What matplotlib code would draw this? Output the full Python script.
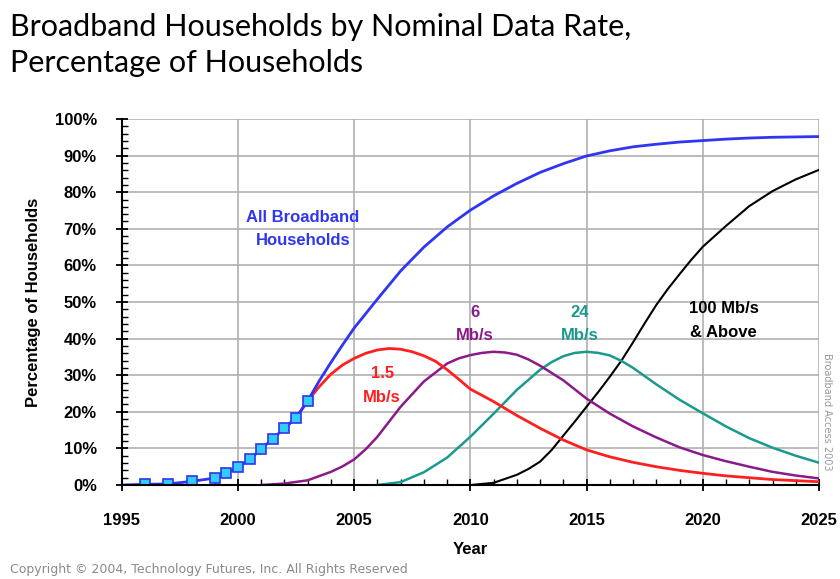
import matplotlib
matplotlib.use("Agg")
from matplotlib import pyplot as plt
from matplotlib.ticker import MultipleLocator, FuncFormatter

# data (percent of households)
marker_years = [1996, 1997, 1998, 1999, 1999.5, 2000, 2000.5, 2001, 2001.5, 2002, 2002.5, 2003]
marker_vals = [0.2, 0.3, 1.0, 1.9, 3.2, 4.8, 7.0, 9.8, 12.7, 15.5, 18.4, 23.0]

all_years = ([1995] + marker_years +
             [2003.5, 2004, 2004.5, 2005, 2006, 2007, 2008, 2009, 2010, 2011, 2012, 2013,
              2014, 2015, 2016, 2017, 2018, 2019, 2020, 2021, 2022, 2023, 2024, 2025])
all_vals = ([0] + marker_vals +
            [28.5, 33.5, 38.3, 42.9, 50.8, 58.5, 65.0, 70.5, 75.1, 79.0, 82.4, 85.4,
             87.8, 89.9, 91.3, 92.4, 93.1, 93.7, 94.1, 94.5, 94.8, 95.0, 95.1, 95.2])

r15_years = [2002, 2002.5, 2003, 2003.5, 2004, 2004.5, 2005, 2005.5, 2006, 2006.5, 2007,
             2007.5, 2008, 2008.5, 2009, 2009.5, 2010, 2011, 2012, 2013, 2014, 2015, 2016,
             2017, 2018, 2019, 2020, 2021, 2022, 2023, 2024, 2025]
r15_vals = [15.5, 18.4, 23.0, 26.9, 30.3, 32.8, 34.6, 36.0, 36.9, 37.3, 37.1, 36.4, 35.3,
            33.8, 31.5, 28.9, 26.2, 22.8, 19.0, 15.5, 12.3, 9.6, 7.7, 6.2, 5.0, 4.0, 3.2,
            2.5, 2.0, 1.5, 1.2, 0.9]

r6_years = [2001, 2002, 2003, 2004, 2004.5, 2005, 2005.5, 2006, 2007, 2008, 2009, 2009.5,
            2010, 2010.5, 2011, 2011.5, 2012, 2012.5, 2013, 2014, 2015, 2016, 2017, 2018,
            2019, 2020, 2021, 2022, 2023, 2024, 2025]
r6_vals = [0, 0.4, 1.3, 3.6, 5.1, 7.0, 9.8, 13.2, 21.4, 28.3, 33.2, 34.6, 35.5, 36.1, 36.4,
           36.2, 35.6, 34.3, 32.6, 28.6, 23.6, 19.5, 16.0, 13.0, 10.3, 8.2, 6.5, 5.0, 3.6,
           2.6, 1.8]

r24_years = [2006, 2007, 2008, 2009, 2010, 2011, 2012, 2013, 2013.5, 2014, 2014.5, 2015,
             2015.5, 2016, 2016.5, 2017, 2018, 2019, 2020, 2021, 2022, 2023, 2024, 2025]
r24_vals = [0, 0.8, 3.5, 7.5, 13.2, 19.5, 26.0, 31.5, 33.6, 35.2, 36.1, 36.4, 36.1, 35.4,
            33.9, 32.0, 27.5, 23.3, 19.6, 16.0, 12.8, 10.2, 8.0, 6.1]

r100_years = [2010, 2011, 2012, 2012.5, 2013, 2013.5, 2014, 2014.5, 2015, 2015.5, 2016,
              2016.5, 2017, 2017.5, 2018, 2018.5, 2019, 2019.5, 2020, 2021, 2022, 2023,
              2024, 2025]
r100_vals = [0, 0.6, 2.8, 4.4, 6.4, 9.6, 13.5, 17.4, 21.4, 25.4, 29.6, 34.0, 39.0, 44.2,
             49.2, 53.6, 57.6, 61.5, 65.1, 70.8, 76.2, 80.3, 83.5, 86.1]

BLUE = "#2f35f0"
RED = "#ff1f1f"
PURPLE = "#8a1a8a"
TEAL = "#1a9a8c"

fig = plt.figure(figsize=(8.4, 5.79), dpi=100)
ax = fig.add_axes([0.145, 0.1623, 0.83, 0.6322])

ax.plot(r100_years, r100_vals, color="black", lw=1.5)
ax.plot(r24_years, r24_vals, color=TEAL, lw=1.8)
ax.plot(r6_years, r6_vals, color=PURPLE, lw=1.8)
ax.plot(r15_years, r15_vals, color=RED, lw=2.0)
ax.plot(all_years, all_vals, color=BLUE, lw=2.0)
ax.plot(marker_years, marker_vals, ls="none", marker="s", ms=7,
        mfc="#33ccff", mec=BLUE, mew=1.2)

ax.set_xlim(1995, 2025)
ax.set_ylim(0, 100)
ax.xaxis.set_major_locator(MultipleLocator(5))
ax.xaxis.set_minor_locator(MultipleLocator(1))
ax.yaxis.set_major_locator(MultipleLocator(10))
ax.yaxis.set_minor_locator(MultipleLocator(2))
ax.yaxis.set_major_formatter(FuncFormatter(lambda v, p: f"{int(v)}%"))
ax.grid(True, which="major", color="#b0b0b0", lw=1.2)
ax.set_axisbelow(True)

for s in ["top", "right"]:
    ax.spines[s].set_visible(False)
for s in ["left", "bottom"]:
    ax.spines[s].set_linewidth(1.5)

ax.tick_params(which="major", direction="inout", length=8, width=1.3, labelsize=12)
ax.tick_params(which="minor", direction="in", length=4, width=1)
for lab in ax.get_xticklabels() + ax.get_yticklabels():
    lab.set_fontfamily("Liberation Sans")
    lab.set_fontweight("bold")
ax.tick_params(axis="x", pad=16)
ax.tick_params(axis="y", pad=14)

ax.set_xlabel("Year", fontsize=12, fontweight="bold", family="Liberation Sans", labelpad=10)
ax.set_ylabel("Percentage of Households", fontsize=12, fontweight="bold",
              family="Liberation Sans", labelpad=10)

lbl = dict(ha="center", va="center", fontsize=12, fontweight="bold", family="Liberation Sans",
           linespacing=1.7)
ax.text(2002.8, 70.0, "All Broadband\nHouseholds", color=BLUE, **lbl)
ax.text(2006.2, 27.2, "1.5\nMb/s", color=RED, **lbl)
ax.text(2010.2, 44.0, "6\nMb/s", color=PURPLE, **lbl)
ax.text(2014.7, 44.0, "24\nMb/s", color=TEAL, **lbl)
ax.text(2020.9, 45.0, "100 Mb/s\n& Above", color="black", **lbl)

fig.text(0.012, 0.922, "Broadband Households by Nominal Data Rate,\nPercentage of Households",
         ha="left", va="center", fontsize=22, family="Lato", linespacing=1.35, color="black")
fig.text(0.012, 0.016, "Copyright \u00a9 2004, Technology Futures, Inc. All Rights Reserved",
         ha="left", va="center", fontsize=9, color="#8a8a8a")
fig.text(0.985, 0.288, "Broadband Access 2003", rotation=270, ha="center", va="center",
         fontsize=7, color="#999999")

fig.savefig("out.png", dpi=100)
